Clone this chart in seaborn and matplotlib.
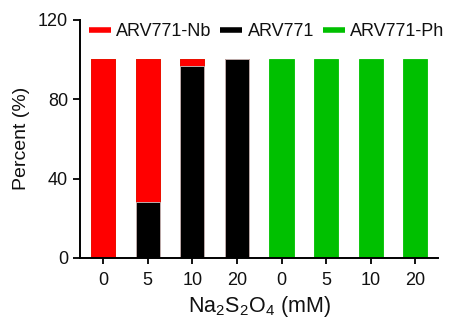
import matplotlib
matplotlib.use("Agg")
import matplotlib.pyplot as plt
import seaborn as sns
import pandas as pd
from matplotlib.lines import Line2D

sns.set_style("ticks")
plt.rcParams['font.family'] = ['Liberation Sans', 'DejaVu Sans']
plt.rcParams['mathtext.fontset'] = 'custom'
plt.rcParams['mathtext.rm'] = 'Liberation Sans'
plt.rcParams['mathtext.it'] = 'Liberation Sans'

# Data
conc_labels = ["0", "5", "10", "20", "0", "5", "10", "20"]
conditions = ["Nb-0", "Nb-5", "Nb-10", "Nb-20", "Ph-0", "Ph-5", "Ph-10", "Ph-20"]
arv771 = [0, 28, 96.5, 100, 0, 0, 0, 0]
arv771_nb = [100, 72, 3.5, 0, 0, 0, 0, 0]
arv771_ph = [0, 0, 0, 0, 100, 100, 100, 100]
series_names = ["ARV771-Nb", "ARV771", "ARV771-Ph"]
colors = {"ARV771-Nb": "#FF0000", "ARV771": "#000000", "ARV771-Ph": "#00C000"}

df = pd.DataFrame({"cond": conditions, "ARV771": arv771,
                   "ARV771-Nb": arv771_nb, "ARV771-Ph": arv771_ph})
df["black_top"] = df["ARV771"]
df["red_top"] = df["black_top"] + df["ARV771-Nb"]
df["green_top"] = df["red_top"] + df["ARV771-Ph"]

fig = plt.figure(figsize=(4.61, 3.21), dpi=100)
ax = fig.add_axes([80/461, 1-258/321, (438-80)/461, (258-19.5)/321])

for col, name in [("green_top", "ARV771-Ph"), ("red_top", "ARV771-Nb"), ("black_top", "ARV771")]:
    sns.barplot(data=df, x="cond", y=col, order=conditions, color=colors[name],
                width=0.54, ax=ax, saturation=1, errorbar=None,
                edgecolor="#c8c8c8" if name == "ARV771" else colors[name],
                linewidth=0.6)

ax.set_xlim(-0.52, 7.51)
ax.set_ylim(0, 120)
ax.set_yticks([0, 40, 80, 120])
ax.set_xticks(range(len(conc_labels)))
ax.set_xticklabels(conc_labels)
ax.tick_params(axis='both', labelsize=13, width=1.3, length=5, color='black', labelcolor='#111111')
ax.tick_params(axis='x', length=4, pad=6)
for s in ["left", "bottom"]:
    ax.spines[s].set_linewidth(1.4)
    ax.spines[s].set_color('black')
sns.despine(ax=ax)
ax.set_ylabel("Percent (%)", fontsize=14, labelpad=6, color='#111111')
ax.set_xlabel("Na$_2$S$_2$O$_4$ (mM)", fontsize=15.5, labelpad=4, color='#111111')

handles = [Line2D([0], [0], color=colors[n], lw=4, solid_capstyle='butt') for n in series_names]
fig.legend(handles, series_names, loc='center left', bbox_to_anchor=(89/461, 1-32/321),
           ncol=3, frameon=False, fontsize=13, handlelength=1.2, handletextpad=0.3,
           columnspacing=0.5, borderpad=0, borderaxespad=0, labelcolor='#111111')

fig.savefig("out.png", dpi=100)
